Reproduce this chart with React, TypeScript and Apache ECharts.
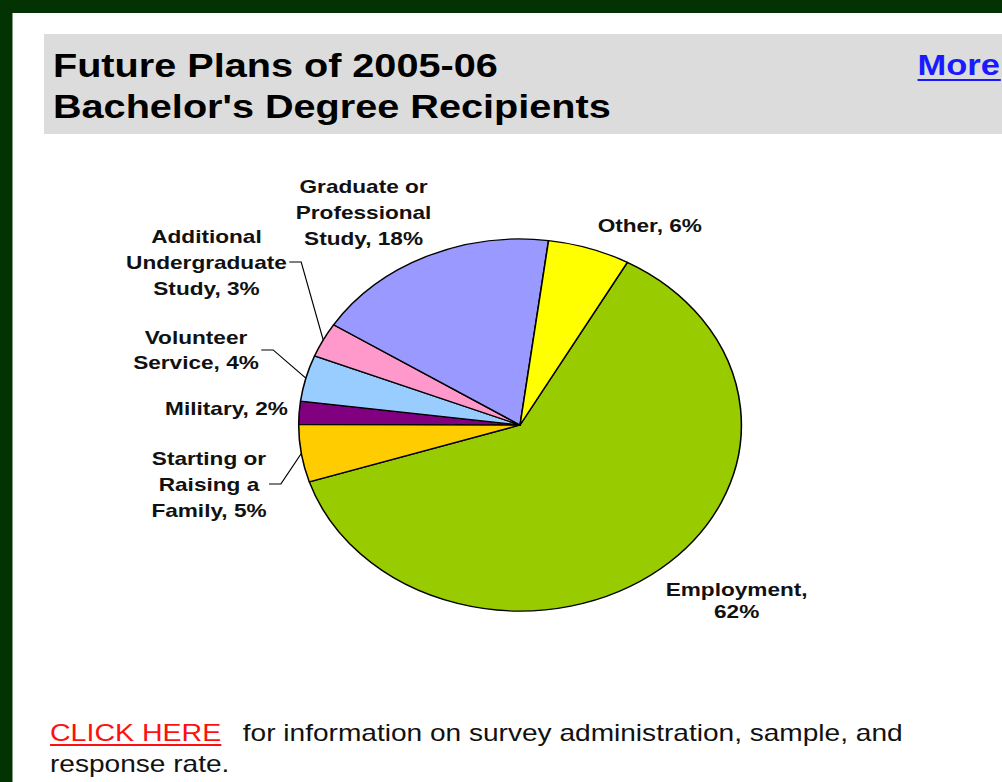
import React, { useEffect, useRef } from 'react';
import * as echarts from 'echarts';

// ---- data ----
const categories = [
  'Employment',
  'Starting or Raising a Family',
  'Military',
  'Volunteer Service',
  'Additional Undergraduate Study',
  'Graduate or Professional Study',
  'Other',
];
const labelNames = [
  'Employment,\n',
  'Starting or\nRaising a\nFamily,',
  'Military,',
  'Volunteer\nService,',
  'Additional\nUndergraduate\nStudy,',
  'Graduate or\nProfessional\nStudy,',
  'Other,',
];
const values = [62, 5, 2, 4, 3, 18, 6];

// ---- styles / layout ----
const sliceColors = ['#99cc00', '#ffcc00', '#800080', '#99ccff', '#ff99cc', '#9999ff', '#ffff00'];
const hasLeader = [false, true, false, true, true, false, false];
const labelPos: number[][] = [
  [619, 600],
  [175.6, 484],
  [190.3, 408],
  [164.7, 350],
  [173.5, 262],
  [305.5, 212],
  [546, 225],
];
const labelLineHeights = [22, 26, 26, 25, 26, 26, 26];

const W = 842;
const H = 782;
const SCALE_X = 1002 / W;
const FONT = '"Liberation Sans", Arial, sans-serif';

export default function App() {
  const ref = useRef<HTMLDivElement>(null);

  useEffect(() => {
    if (!ref.current) return;
    const chart = echarts.init(ref.current, null, { renderer: 'svg' });

    const data = categories.map((c, i) => ({
      name: c,
      value: values[i],
      itemStyle: { color: sliceColors[i] },
      label: { lineHeight: labelLineHeights[i] },
      labelLine: { show: hasLeader[i] },
    }));

    chart.setOption({
      animation: false,
      backgroundColor: '#ffffff',
      graphic: [
        { type: 'rect', silent: true, shape: { x: 0, y: 0, width: 10.5, height: H }, style: { fill: '#033203' } },
        { type: 'rect', silent: true, shape: { x: 0, y: 0, width: W, height: 13 }, style: { fill: '#033203' } },
        { type: 'rect', silent: true, shape: { x: 37, y: 34, width: W - 37, height: 100 }, style: { fill: '#dcdcdc' } },
        {
          type: 'text', silent: true, x: 44.5, y: 65.5,
          style: { text: 'Future Plans of 2005-06', fill: '#000', fontSize: 33.3, fontWeight: 'bold', fontFamily: FONT, verticalAlign: 'middle', align: 'left' },
        },
        {
          type: 'text', silent: true, x: 44.5, y: 106.5,
          style: { text: "Bachelor's Degree Recipients", fill: '#000', fontSize: 33.3, fontWeight: 'bold', fontFamily: FONT, verticalAlign: 'middle', align: 'left' },
        },
        {
          type: 'text', silent: true, x: 771, y: 65,
          style: { text: 'More', fill: '#1a1aff', fontSize: 29, fontWeight: 'bold', fontFamily: FONT, verticalAlign: 'middle', align: 'left' },
        },
        { type: 'rect', silent: true, shape: { x: 771, y: 79, width: 70, height: 2 }, style: { fill: '#1a1aff' } },
        {
          type: 'text', silent: true, x: 42, y: 732.5,
          style: { text: 'CLICK HERE', fill: '#ff1010', fontSize: 24, fontFamily: FONT, verticalAlign: 'middle', align: 'left' },
        },
        { type: 'rect', silent: true, shape: { x: 42, y: 744, width: 144, height: 2 }, style: { fill: '#ff1010' } },
        {
          type: 'text', silent: true, x: 204, y: 732.5,
          style: { text: 'for information on survey administration, sample, and', fill: '#111', fontSize: 23.6, fontFamily: FONT, verticalAlign: 'middle', align: 'left' },
        },
        {
          type: 'text', silent: true, x: 42, y: 764,
          style: { text: 'response rate.', fill: '#111', fontSize: 23.6, fontFamily: FONT, verticalAlign: 'middle', align: 'left' },
        },
      ],
      series: [
        {
          type: 'pie',
          silent: true,
          center: [437, 425],
          radius: 186,
          startAngle: 61,
          clockwise: true,
          avoidLabelOverlap: false,
          data,
          itemStyle: { borderColor: '#000', borderWidth: 1.3 },
          emphasis: { disabled: true },
          label: {
            show: true,
            position: 'outside',
            color: '#111',
            fontSize: 19,
            fontWeight: 'bold',
            fontFamily: FONT,
            lineHeight: 26,
            align: 'center',
            formatter: (p: any) => {
              const n = labelNames[p.dataIndex];
              return n + (n.endsWith('\n') ? '' : ' ') + p.value + '%';
            },
          },
          labelLine: {
            show: true,
            length: 10,
            length2: 10,
            lineStyle: { color: '#000', width: 1 },
          },
          labelLayout: (params: any) => {
            const i = params.dataIndex;
            const [lx, ly] = labelPos[i];
            const res: any = { x: lx, y: ly, align: 'center', verticalAlign: 'middle' };
            if (hasLeader[i] && params.labelLinePoints) {
              const edge = params.labelLinePoints[0];
              const right = lx + params.labelRect.width / 2 + 2;
              res.labelLinePoints = [
                [right, ly],
                [right + 10, ly],
                [edge[0], edge[1]],
              ];
            }
            return res;
          },
        },
      ],
    });

    return () => chart.dispose();
  }, []);

  return (
    <div
      ref={ref}
      style={{
        position: 'absolute',
        left: 0,
        top: 0,
        width: W,
        height: H,
        transform: `scaleX(${SCALE_X})`,
        transformOrigin: '0 0',
      }}
    />
  );
}
